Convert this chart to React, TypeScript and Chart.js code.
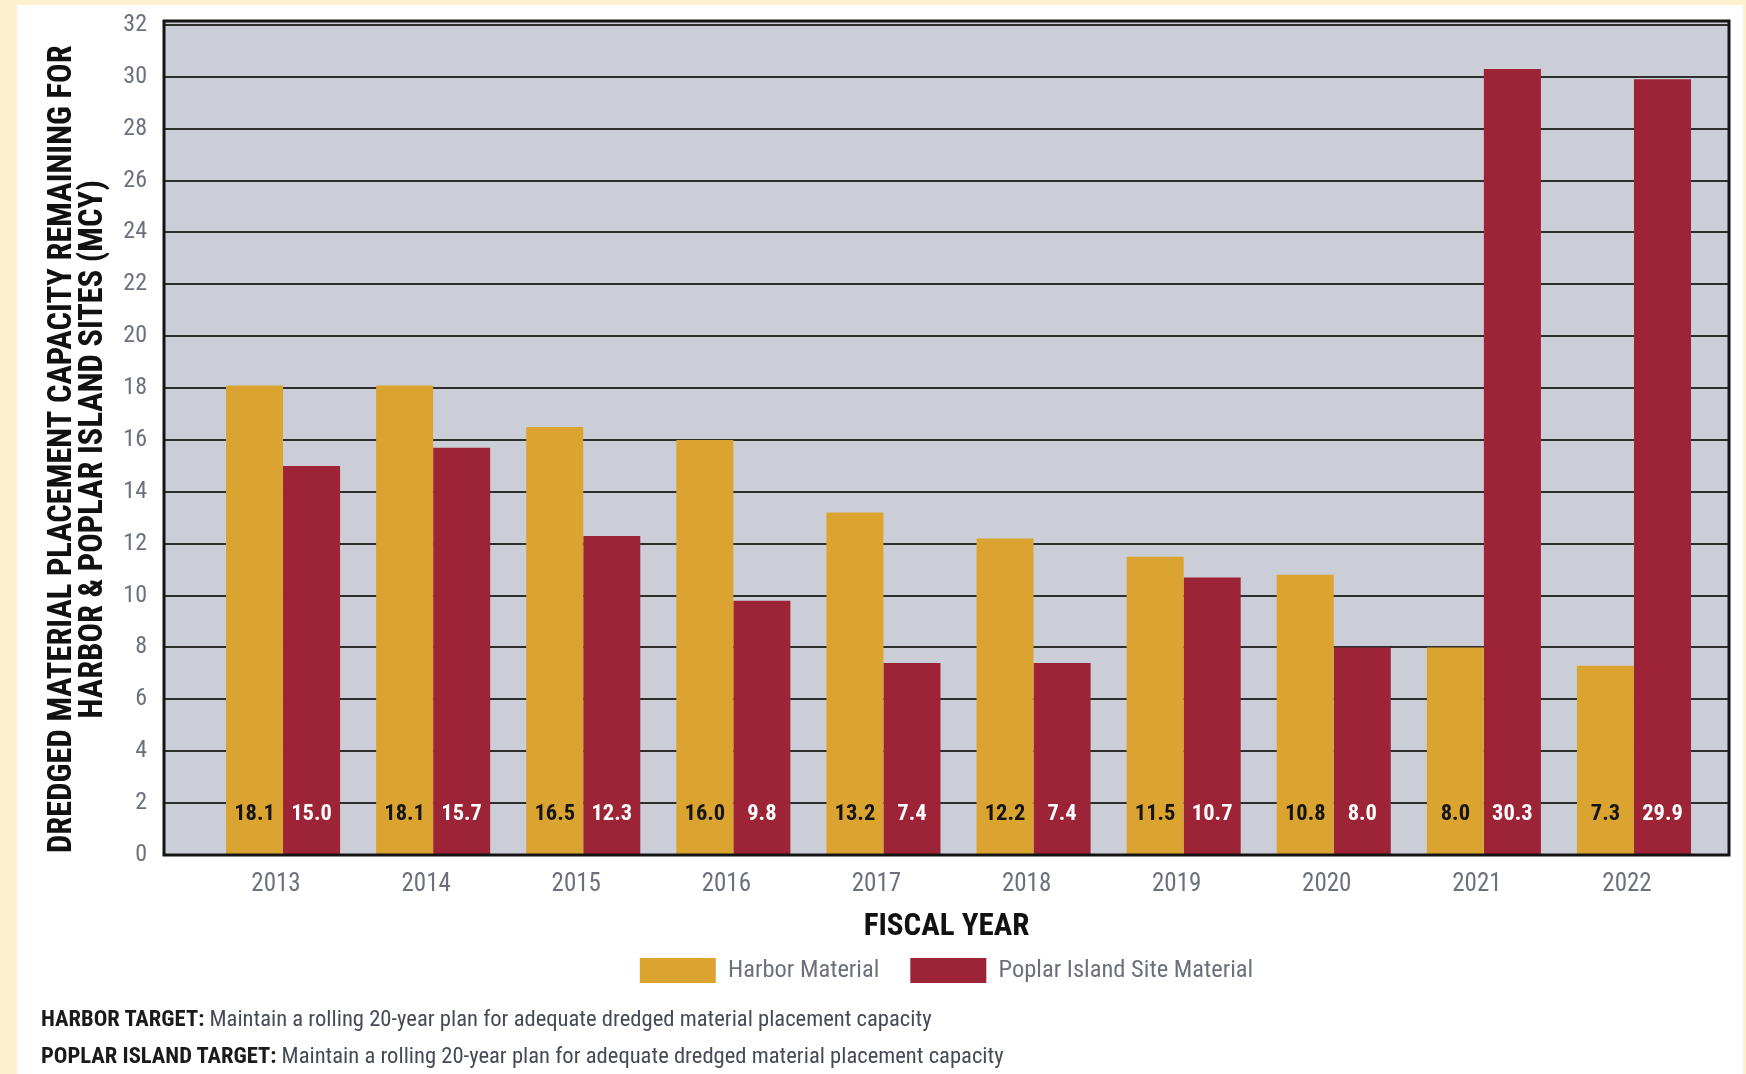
import React, { useEffect, useRef } from 'react';
import { Chart, registerables } from 'chart.js';

Chart.register(...registerables);

const years = ['2013', '2014', '2015', '2016', '2017', '2018', '2019', '2020', '2021', '2022'];
const harborValues = [18.1, 18.1, 16.5, 16.0, 13.2, 12.2, 11.5, 10.8, 8.0, 7.3];
const poplarValues = [15.0, 15.7, 12.3, 9.8, 7.4, 7.4, 10.7, 8.0, 30.3, 29.9];
const seriesNames = ['Harbor Material', 'Poplar Island Site Material'];
const yMin = 0;
const yMax = 32;
const yStep = 2;
const yTitle = ['DREDGED MATERIAL PLACEMENT CAPACITY REMAINING FOR', 'HARBOR & POPLAR ISLAND SITES (MCY)'];
const xTitle = 'FISCAL YEAR';
const footnoteLabels = ['HARBOR TARGET:', 'POPLAR ISLAND TARGET:'];
const footnoteTexts = [
  'Maintain a rolling 20-year plan for adequate dredged material placement capacity',
  'Maintain a rolling 20-year plan for adequate dredged material placement capacity',
];

const NARROW = '"Liberation Sans Narrow", "Arial Narrow", "Roboto Condensed", Roboto, sans-serif';
const HARBOR_COLOR = '#DBA431';
const POPLAR_COLOR = '#9C2436';
const GRAY_TEXT = '#6B707C';

const framePlugin = {
  id: 'frame',
  afterDatasetsDraw(chart: any) {
    const { ctx, chartArea } = chart;
    ctx.save();
    ctx.strokeStyle = '#141414';
    ctx.lineWidth = 3;
    ctx.strokeRect(chartArea.left, chartArea.top, chartArea.right - chartArea.left, chartArea.bottom - chartArea.top);
    ctx.restore();
  },
};

const bgPlugin = {
  id: 'plotBg',
  beforeDraw(chart: any) {
    const { ctx, chartArea } = chart;
    ctx.save();
    ctx.fillStyle = '#CBCED6';
    ctx.fillRect(chartArea.left, chartArea.top, chartArea.right - chartArea.left, chartArea.bottom - chartArea.top);
    ctx.restore();
  },
};

const valueLabelPlugin = {
  id: 'valueLabels',
  afterDraw(chart: any) {
    const { ctx } = chart;
    const yPix = chart.scales.y.getPixelForValue(0) - 41;
    ctx.save();
    ctx.font = `bold 22.5px ${NARROW}`;
    ctx.textAlign = 'center';
    ctx.textBaseline = 'middle';
    chart.data.datasets.forEach((ds: any, di: number) => {
      const meta = chart.getDatasetMeta(di);
      ctx.fillStyle = di === 0 ? '#151515' : '#FFFFFF';
      meta.data.forEach((el: any, i: number) => {
        const v = ds.data[i].y;
        ctx.fillText(v.toFixed(1), el.x, yPix);
      });
    });
    ctx.restore();
  },
};

export default function App() {
  const ref = useRef<HTMLCanvasElement>(null);

  useEffect(() => {
    if (!ref.current) return;
    const chart = new Chart(ref.current, {
      type: 'bar',
      data: {
        datasets: [
          {
            label: seriesNames[0],
            data: harborValues.map((v, i) => ({ x: i, y: v })),
            backgroundColor: HARBOR_COLOR,
            borderWidth: 0,
          },
          {
            label: seriesNames[1],
            data: poplarValues.map((v, i) => ({ x: i, y: v })),
            backgroundColor: POPLAR_COLOR,
            borderWidth: 0,
          },
        ],
      },
      options: {
        responsive: false,
        animation: false,
        devicePixelRatio: 1,
        layout: { padding: { top: 21, right: 17, left: 0, bottom: 81 } },
        datasets: { bar: { categoryPercentage: 0.76, barPercentage: 1.0 } },
        scales: {
          x: {
            type: 'linear',
            offset: false,
            min: -0.793,
            max: 9.633,
            grid: { display: false, drawTicks: false, offset: false },
            border: { display: false },
            afterFit: (s: any) => { s.height = 72; },
            ticks: {
              stepSize: 1,
              includeBounds: false,
              autoSkip: false,
              maxRotation: 0,
              padding: 15,
              labelOffset: -7,
              color: GRAY_TEXT,
              font: { family: NARROW, size: 25 },
              callback: (v: any) => (Number.isInteger(v) && years[v] !== undefined ? years[v] : ''),
            },
            title: {
              display: true,
              text: xTitle,
              color: '#111111',
              font: { family: NARROW, size: 31, weight: 'bold', lineHeight: 1 },
              padding: { top: 0, bottom: -16 },
            },
          },
          y: {
            min: yMin,
            max: yMax + 0.15,
            afterFit: (s: any) => {
              s.width = 164;
              s.paddingTop = 10;
              s.paddingBottom = 10;
            },
            grid: { color: '#2E2E2E', lineWidth: 2, drawTicks: false },
            border: { display: false },
            ticks: {
              stepSize: yStep,
              includeBounds: false,
              padding: 17,
              color: GRAY_TEXT,
              font: { family: NARROW, size: 24 },
            },
            title: {
              display: true,
              text: yTitle.map((t) => t + '   '),
              color: '#111111',
              font: { family: NARROW, size: 32.5, weight: 'bold', lineHeight: 0.96 },
              padding: { top: 47, bottom: 0 },
            },
          },
        },
        plugins: {
          legend: {
            position: 'bottom',
            fullSize: false,
            labels: {
              boxWidth: 76,
              boxHeight: 25,
              padding: 31,
              color: GRAY_TEXT,
              font: { family: NARROW, size: 24.5 },
            },
          },
          tooltip: { enabled: false },
        },
      },
      plugins: [bgPlugin, framePlugin, valueLabelPlugin],
    } as any);
    return () => chart.destroy();
  }, []);

  return (
    <div style={{ position: 'fixed', left: 0, top: 0, width: 1746, height: 1074, background: '#FEF0CE', overflow: 'hidden' }}>
      <div style={{ position: 'absolute', left: 17, top: 5, width: 1726, height: 1069, background: '#FFFFFF' }} />
      <canvas ref={ref} width={1746} height={1074} style={{ position: 'absolute', left: 0, top: 0, width: 1746, height: 1074 }} />
      <div style={{ position: 'absolute', left: 41, top: 1000, fontFamily: NARROW, fontSize: 22.6, lineHeight: '37px', whiteSpace: 'nowrap' }}>
        {footnoteLabels.map((lab, i) => (
          <div key={i}>
            <span style={{ fontWeight: 'bold', color: '#1A1A1A' }}>{lab}</span>
            <span style={{ color: '#454A55' }}> {footnoteTexts[i]}</span>
          </div>
        ))}
      </div>
    </div>
  );
}
